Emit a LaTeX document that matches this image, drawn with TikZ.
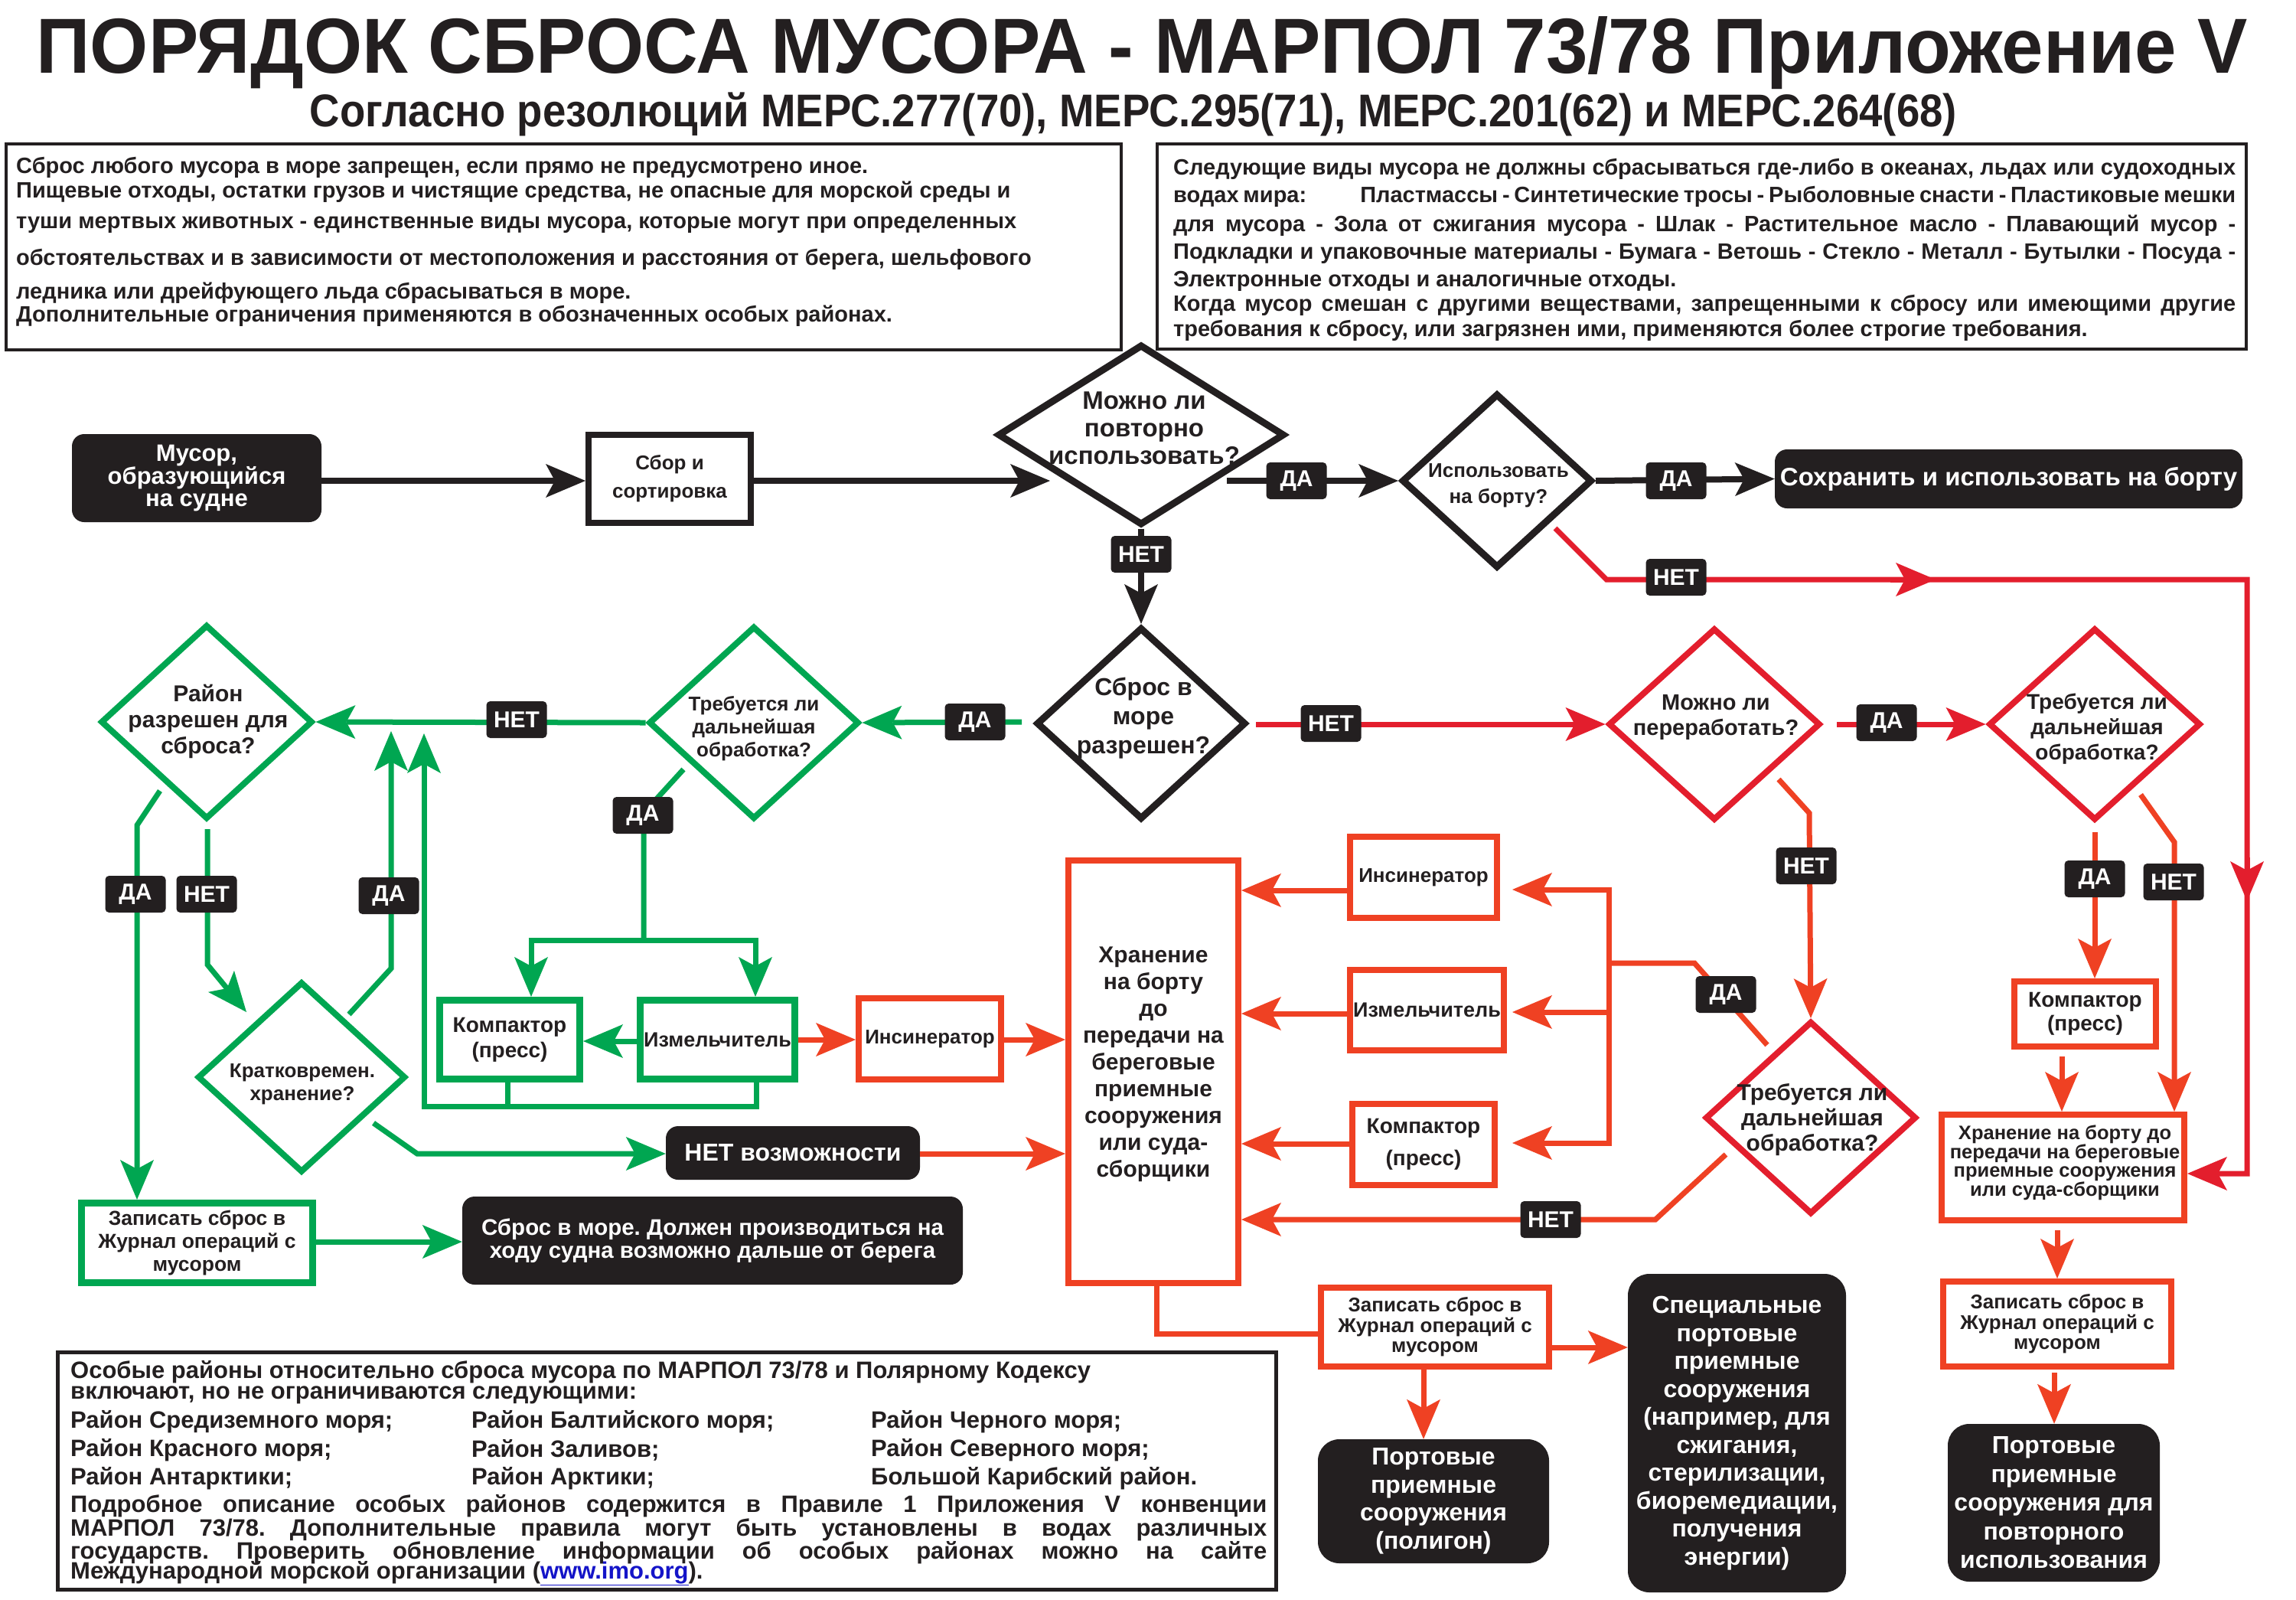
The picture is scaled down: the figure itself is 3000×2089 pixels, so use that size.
\documentclass[tikz,border=0pt]{standalone}
\usepackage{fontspec}
\usepackage{graphicx}
\setmainfont{Liberation Sans}
\usetikzlibrary{arrows.meta,shapes.geometric}
\definecolor{ink}{RGB}{35,31,32}
\definecolor{grn}{RGB}{0,166,81}
\definecolor{crim}{RGB}{227,30,45}
\definecolor{ored}{RGB}{239,65,35}
\definecolor{lnk}{RGB}{20,20,200}
\newcommand\fsz[2]{\fontsize{#1}{#2}\selectfont\bfseries}
\newcommand\jl[2]{\makebox[#1][s]{#2}}
\frenchspacing
\begin{document}
\frenchspacing
\begin{tikzpicture}[x=1pt,y=-1pt,
  cB/.style={draw=ink,line width=8pt},
  cC/.style={draw=crim,line width=7pt},
  cO/.style={draw=ored,line width=7pt},
  cG/.style={draw=grn,line width=7pt},
  hd/.style={-{Stealth[length=52pt,width=44pt,inset=12pt,line width=0pt]}},
  lab/.style={fill=ink,text=white,rounded corners=5pt,minimum width=79pt,minimum height=48pt,inner sep=0pt,font=\fsz{30}{30}},
  blk/.style={fill=ink,text=white,rounded corners=16pt,inner sep=0pt,align=center},
  bx/.style={draw,inner sep=0pt,align=center,text=ink},
  bxG/.style={bx,draw=grn,line width=9pt},
  bxR/.style={bx,draw=ored,line width=8pt},
  dB/.style={diamond,draw=ink,line width=9pt,inner sep=0pt},
  dC/.style={diamond,draw=crim,line width=8pt,inner sep=0pt},
  dG/.style={diamond,draw=grn,line width=8pt,inner sep=0pt},
  tx/.style={align=center,inner sep=0pt,text=ink},
  ptxt/.style={anchor=west,inner sep=0pt,text=ink,font=\fsz{29}{30}},
  btxt/.style={anchor=west,inner sep=0pt,text=ink,font=\fsz{31}{31}}]
\useasboundingbox (0,0) rectangle (3000,2089);
\fill[white] (0,0) rectangle (3000,2089);

% ---------- titles
\node[anchor=base,inner sep=0pt,text=ink] (title) at (1492,95)
  {\resizebox{2889pt}{\height}{\fsz{102}{102}ПОРЯДОК СБРОСА МУСОРА - МАРПОЛ 73/78 Приложение V}};
\node[anchor=base,inner sep=0pt,text=ink] (subtitle) at (1481,165)
  {\resizebox{2152pt}{\height}{\fsz{60}{60}Согласно резолюций МЕРС.277(70), МЕРС.295(71), МЕРС.201(62) и МЕРС.264(68)}};

% ---------- info boxes
\node[draw=ink,line width=4pt,minimum width=1457pt,minimum height=269pt,anchor=north west,inner sep=0pt] (infoL) at (6,186) {};
\node[draw=ink,line width=4pt,minimum width=1423pt,minimum height=268pt,anchor=north west,inner sep=0pt] (infoR) at (1510,186) {};
\node[ptxt] (l1) at (21,219) {Сброс любого мусора в море запрещен, если прямо не предусмотрено иное.};
\node[ptxt] (l2) at (21,251) {Пищевые отходы, остатки грузов и чистящие средства, не опасные для морской среды и};
\node[ptxt] (l3) at (21,294) {туши мертвых животных - единственные виды мусора, которые могут при определенных};
\node[ptxt] (l4) at (21,339) {обстоятельствах и в зависимости от местоположения и расстояния от берега, шельфового};
\node[ptxt] (l5) at (21,383) {ледника или дрейфующего льда сбрасываться в море.};
\node[ptxt] (l6) at (21,413) {Дополнительные ограничения применяются в обозначенных особых районах.};

\node[ptxt] (r1) at (1533,221) {\jl{1388pt}{Следующие виды мусора не должны сбрасываться где-либо в океанах, льдах или судоходных}};
\node[ptxt] (r2) at (1533,257) {\jl{1388pt}{водах мира:\hspace*{70pt}Пластмассы - Синтетические тросы - Рыболовные снасти - Пластиковые мешки}};
\node[ptxt] (r3) at (1533,295) {\jl{1388pt}{для мусора - Зола от сжигания мусора - Шлак - Растительное масло - Плавающий мусор -}};
\node[ptxt] (r4) at (1533,331) {\jl{1388pt}{Подкладки и упаковочные материалы - Бумага - Ветошь - Стекло - Металл - Бутылки - Посуда -}};
\node[ptxt] (r5) at (1533,367) {Электронные отходы и аналогичные отходы.};
\node[ptxt] (r6) at (1533,399) {\jl{1388pt}{Когда мусор смешан с другими веществами, запрещенными к сбросу или имеющими другие}};
\node[ptxt] (r7) at (1533,432) {требования к сбросу, или загрязнен ими, применяются более строгие требования.};

% ---------- bottom info box
\node[draw=ink,line width=5pt,minimum width=1592pt,minimum height=310pt,anchor=north west,inner sep=0pt] (infoB) at (73,1764) {};
\node[btxt] (b1) at (92,1792) {Особые районы относительно сброса мусора по МАРПОЛ 73/78 и Полярному Кодексу};
\node[btxt] (b2) at (92,1822) {включают, но не ограничиваются следующими:};
\node[btxt] (b3a) at (92,1857) {Район Средиземного моря;};
\node[btxt] (b3b) at (616,1857) {Район Балтийского моря;};
\node[btxt] (b3c) at (1138,1857) {Район Черного моря;};
\node[btxt] (b4a) at (92,1894) {Район Красного моря;};
\node[btxt] (b4b) at (616,1894) {Район Заливов;};
\node[btxt] (b4c) at (1138,1894) {Район Северного моря;};
\node[btxt] (b5a) at (92,1931) {Район Антарктики;};
\node[btxt] (b5b) at (616,1931) {Район Арктики;};
\node[btxt] (b5c) at (1138,1931) {Большой Карибский район.};
\node[btxt] (b6) at (92,1967) {\jl{1563pt}{Подробное описание особых районов содержится в Правиле 1 Приложения V конвенции}};
\node[btxt] (b7) at (92,1998) {\jl{1563pt}{МАРПОЛ 73/78. Дополнительные правила могут быть установлены в водах различных}};
\node[btxt] (b8) at (92,2028) {\jl{1563pt}{государств. Проверить обновление информации об особых районах можно на сайте}};
\node[btxt] (b9) at (92,2055) {Международной морской организации (\textcolor{lnk}{\underline{www.imo.org}}).};

% ---------- top row
\node[blk,minimum width=326pt,minimum height=115pt,font=\fsz{31}{29}] (musor) at (257,624.5) {Мусор,\\образующийся\\на судне};
\node[bx,draw=ink,line width=8pt,minimum width=212pt,minimum height=115pt,font=\fsz{26}{37}] (sbor) at (875,625.5) {Сбор и\\сортировка};
\node[dB,minimum width=375pt,minimum height=236pt] (reuse) at (1491,568) {};
\node[tx,font=\fsz{33}{36}] (reuseT) at (1495,559) {Можно ли\\повторно\\использовать?};
\node[dB,minimum width=249pt,minimum height=228pt] (onb) at (1956,628) {};
\node[tx,font=\fsz{26}{34}] (onbT) at (1958,634) {Использовать\\на борту?};
\node[blk,minimum width=611pt,minimum height=77pt,font=\fsz{33}{33}] (keep) at (2624.5,625.5) {Сохранить и использовать на борту};

% ---------- second row diamonds
\node[dB,minimum width=274pt,minimum height=251pt] (sea) at (1491,945) {};
\node[tx,font=\fsz{32}{38}] (seaT) at (1494,938) {Сброс в\\море\\разрешен?};
\node[dC,minimum width=277pt,minimum height=251pt] (recyc) at (2240,946) {};
\node[tx,font=\fsz{29}{33}] (recycT) at (2242,937) {Можно ли\\переработать?};
\node[dC,minimum width=277pt,minimum height=251pt] (furR) at (2737,946) {};
\node[tx,font=\fsz{28}{33}] (furRT) at (2740,952) {Требуется ли\\дальнейшая\\обработка?};
\node[dG,minimum width=275pt,minimum height=252pt] (furG) at (985,944) {};
\node[tx,font=\fsz{26}{30}] (furGT) at (985,952) {Требуется ли\\дальнейшая\\обработка?};
\node[dG,minimum width=277pt,minimum height=254pt] (area) at (270,943) {};
\node[tx,font=\fsz{30}{34}] (areaT) at (272,942) {Район\\разрешен для\\сброса?};
\node[dG,minimum width=272pt,minimum height=249pt] (short) at (394,1407) {};
\node[tx,font=\fsz{26}{30}] (shortT) at (395,1416) {Кратковремен.\\хранение?};
\node[dC,minimum width=276pt,minimum height=252pt] (furM) at (2366,1460) {};
\node[tx,font=\fsz{30}{33}] (furMT) at (2368,1463) {Требуется ли\\дальнейшая\\обработка?};

% ---------- processing boxes
\node[bxG,minimum width=183pt,minimum height=103pt,font=\fsz{28}{33}] (grComp) at (666,1358) {Компактор\\(пресс)};
\node[bxG,minimum width=202pt,minimum height=103pt,font=\fsz{27}{30}] (grShred) at (937.5,1358) {Измельчитель};
\node[bxR,minimum width=186pt,minimum height=106pt,font=\fsz{26}{30}] (rInc1) at (1215,1357) {Инсинератор};
\node[bxR,minimum width=222pt,minimum height=552pt] (store) at (1507,1400) {};
\node[tx,font=\fsz{30}{35}] (storeT) at (1507,1390) {Хранение\\на борту\\до\\передачи на\\береговые\\приемные\\сооружения\\или суда-\\сборщики};
\node[bxR,minimum width=192pt,minimum height=106pt,font=\fsz{26}{30}] (rInc2) at (1860,1146) {Инсинератор};
\node[bxR,minimum width=201pt,minimum height=105pt,font=\fsz{27}{30}] (rShred) at (1864.5,1319.5) {Измельчитель};
\node[bxR,minimum width=186pt,minimum height=106pt,font=\fsz{28}{42}] (rComp) at (1860,1495) {Компактор\\(пресс)};
\node[bxR,minimum width=185pt,minimum height=85pt,font=\fsz{28}{31}] (rComp2) at (2724.5,1324.5) {Компактор\\(пресс)};
\node[bxR,minimum width=317pt,minimum height=138pt] (store2) at (2695.5,1525) {};
\node[tx,font=\fsz{25.5}{24.5}] (store2T) at (2698,1519) {Хранение на борту до\\передачи на береговые\\приемные сооружения\\или суда-сборщики};
\node[bxR,minimum width=298pt,minimum height=111pt,font=\fsz{26}{26.5}] (log2) at (2688,1729.5) {Записать сброс в\\Журнал операций с\\мусором};
\node[blk,rounded corners=28pt,minimum width=277pt,minimum height=206pt,font=\fsz{32}{37.5}] (port2) at (2683.5,1963) {Портовые\\приемные\\сооружения для\\повторного\\использования};
\node[bxR,minimum width=298pt,minimum height=103pt,font=\fsz{26}{26.5}] (log1) at (1875,1733.5) {Записать сброс в\\Журнал операций с\\мусором};
\node[blk,rounded corners=28pt,minimum width=302pt,minimum height=162pt,font=\fsz{32}{36.5}] (port1) at (1873,1961) {Портовые\\приемные\\сооружения\\(полигон)};
\node[blk,rounded corners=28pt,minimum width=285pt,minimum height=416pt,font=\fsz{32}{36.5}] (special) at (2269.5,1872) {Специальные\\портовые\\приемные\\сооружения\\(например, для\\сжигания,\\стерилизации,\\биоремедиации,\\получения\\энергии)};
\node[blk,minimum width=332pt,minimum height=70pt,font=\fsz{32}{32}] (noopt) at (1036,1506) {НЕТ возможности};
\node[blk,minimum width=654pt,minimum height=115pt,font=\fsz{29.5}{30}] (seadump) at (931,1620.5) {Сброс в море. Должен производиться на\\ходу судна возможно дальше от берега};
\node[bxG,minimum width=302pt,minimum height=104pt,font=\fsz{26.5}{30}] (grLog) at (257.5,1623.5) {Записать сброс в\\Журнал операций с\\мусором};

% ---------- black connectors
\draw[cB,hd] (musor.east |- 0,628) -- (sbor.west |- 0,628);
\draw[cB,hd] (sbor.east |- 0,628) -- (1372,628);
\draw[cB,hd] (1603,628) -- (onb.west);
\draw[cB,hd] (onb.east) -- (keep.west);
\draw[cB,hd] (reuse.south) -- (sea.north);

% ---------- crimson connectors
\draw[cC,hd] (2032,690) -- (2099,757) -- (2936,757) -- (2936,1533) -- (store2.east |- 0,1533);
\draw[cC,hd] (2470,757) -- (2529,757);
\draw[cC,hd] (2936,1120) -- (2936,1177);
\draw[cC,hd] (1641,946) -- (recyc.west);
\draw[cC,hd] (2400,946) -- (furR.west);

% ---------- orange connectors
\draw[cO,hd] (2737,1087) -- (rComp2.north -| 2737,0);
\draw[cO,hd] (2797,1038) -- (2841,1100) -- (store2.north -| 2841,0);
\draw[cO,hd] (2694,1380) -- (store2.north -| 2694,0);
\draw[cO,hd] (2688,1607) -- (log2.north -| 2688,0);
\draw[cO,hd] (2684,1793) -- (port2.north -| 2684,0);
\draw[cO,hd] (2324,1018) -- (2364,1062) -- (furM.north);
\draw[cO] (2309,1365) -- (2214,1258) -- (2102,1258);
\draw[cO] (2102,1158.5) -- (2102,1496.5);
\draw[cO,hd] (2102,1162) -- (1976,1162);
\draw[cO,hd] (2102,1322) -- (1976,1322);
\draw[cO,hd] (2102,1493) -- (1976,1493);
\draw[cO,hd] (2255,1508) -- (2163,1593) -- (store.east |- 0,1593);
\draw[cO,hd] (rInc2.west |- 0,1163) -- (store.east |- 0,1163);
\draw[cO,hd] (rShred.west |- 0,1324) -- (store.east |- 0,1324);
\draw[cO,hd] (rComp.west |- 0,1494) -- (store.east |- 0,1494);
\draw[cO,hd] (noopt.east |- 0,1507) -- (store.west |- 0,1507);
\draw[cO,hd] (rInc1.east |- 0,1358) -- (store.west |- 0,1358);
\draw[cO,hd] (grShred.east |- 0,1358) -- (rInc1.west |- 0,1358);
\draw[cO] (store.south -| 1511,0) -- (1511,1742) -- (log1.west |- 0,1742);
\draw[cO,hd] (log1.east |- 0,1760) -- (special.west |- 0,1760);
\draw[cO,hd] (log1.south -| 1860,0) -- (port1.north -| 1860,0);

% ---------- green connectors
\draw[cG,hd] (1335,943) -- (furG.east);
\draw[cG,hd] (furG.west) -- (area.east);
\draw[cG] (893,1005) -- (841,1062) -- (841,1228);
\draw[cG] (690.5,1228) -- (990.5,1228);
\draw[cG,hd] (694,1228) -- (grComp.north -| 694,0);
\draw[cG,hd] (987,1228) -- (grShred.north -| 987,0);
\draw[cG,hd] (grShred.west |- 0,1360) -- (grComp.east |- 0,1360);
\draw[cG] (grComp.south -| 663,0) -- (663,1445);
\draw[cG,hd] (grShred.south -| 988,0) -- (988,1445) -- (554,1445) -- (554,958);
\draw[cG,hd] (456,1325) -- (511,1265) -- (511,955);
\draw[cG,hd] (209,1033) -- (179,1078) -- (grLog.north -| 179,0);
\draw[cG,hd] (271,1083) -- (271,1260) -- (322,1322);
\draw[cG,hd] (488,1467) -- (545,1507) -- (noopt.west |- 0,1507);
\draw[cG,hd] (grLog.east |- 0,1622) -- (seadump.west |- 0,1622);

% ---------- yes / no labels
\node[lab] (y1) at (1694,628) {ДА};
\node[lab] (y2) at (2190,628) {ДА};
\node[lab] (n1) at (1491,724) {НЕТ};
\node[lab] (n2) at (2190,754) {НЕТ};
\node[lab] (y3) at (1274,943) {ДА};
\node[lab] (n3) at (1739,945) {НЕТ};
\node[lab] (y4) at (2465,944) {ДА};
\node[lab] (n4) at (675,940) {НЕТ};
\node[lab] (y5) at (840,1065) {ДА};
\node[lab] (y6) at (177,1168) {ДА};
\node[lab] (n5) at (270,1168) {НЕТ};
\node[lab] (y7) at (508,1170) {ДА};
\node[lab] (n6) at (2360,1131) {НЕТ};
\node[lab] (y8) at (2737,1148) {ДА};
\node[lab] (n7) at (2840,1152) {НЕТ};
\node[lab] (y9) at (2255,1299) {ДА};
\node[lab] (n8) at (2026,1593) {НЕТ};
\end{tikzpicture}
\end{document}
